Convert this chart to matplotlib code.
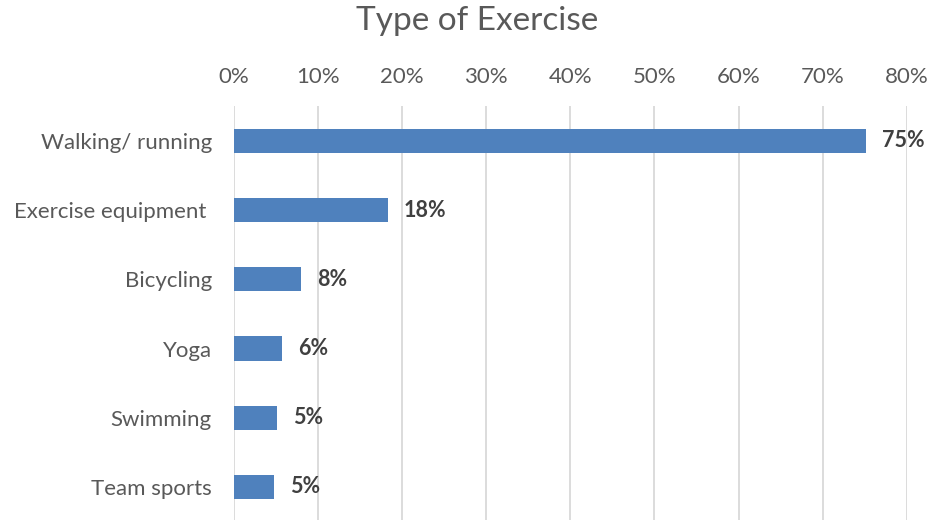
import matplotlib
matplotlib.use('Agg')
import matplotlib.pyplot as plt
from matplotlib.ticker import PercentFormatter

# Chart data
categories = ['Walking/ running', 'Exercise equipment ', 'Bicycling', 'Yoga',
              'Swimming', 'Team sports']
values = [0.751, 0.183, 0.080, 0.057, 0.051, 0.048]
labels = ['75%', '18%', '8%', '6%', '5%', '5%']

plt.rcParams['font.family'] = ['Lato', 'DejaVu Sans']

fig = plt.figure(figsize=(9.3, 5.2), dpi=100)
ax = fig.add_axes([0.2516, -0.003, 0.975 - 0.2516, 0.7985])

pos = list(range(len(categories)))
ax.barh(pos, values, height=0.35, color='#4F81BD', zorder=3)
ax.set_ylim(len(categories) - 0.5, -0.5)
ax.set_xlim(0, 0.8)
ax.set_yticks(pos)
ax.set_yticklabels(categories, fontsize=16, color='#595959')
ax.set_xticks([i / 10 for i in range(9)])
ax.xaxis.set_major_formatter(PercentFormatter(1.0, decimals=0))
ax.xaxis.tick_top()
ax.tick_params(axis='x', length=0, pad=14, labelsize=16, labelcolor='#595959')
ax.tick_params(axis='y', length=0, pad=16)
ax.grid(axis='x', color='#D9D9D9', linewidth=1.3, zorder=0)
for s in ax.spines.values():
    s.set_visible(False)

for p, v, lab in zip(pos, values, labels):
    ax.annotate(lab, (v, p), xytext=(11.5, 0), textcoords='offset points',
                va='center', ha='left', fontsize=15.5, fontweight='bold',
                color='#404040')

fig.text(0.513, 0.96, 'Type of Exercise', ha='center', va='center',
         fontsize=24, color='#595959')

fig.savefig('out.png', dpi=100)
